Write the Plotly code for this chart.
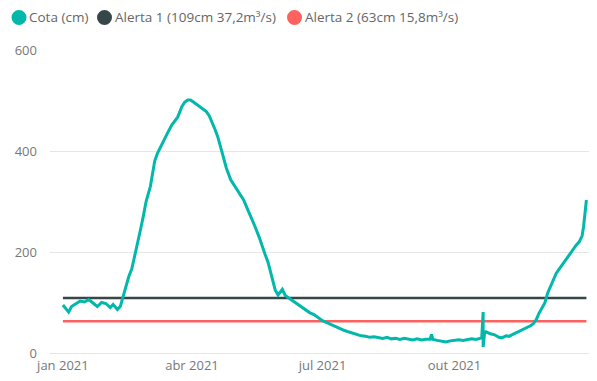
import plotly.graph_objects as go
import pandas as pd

# Dia do ano (0 = 1 jan 2021) e cota em cm
dia = [0, 2, 4, 6, 9, 12, 15, 18, 21, 24, 27, 30, 33, 35, 38, 40, 42, 44, 46, 48,
       50, 52, 54, 56, 58, 61, 64, 66, 68, 71, 73, 76, 78, 80, 83, 85, 87, 89, 91, 94,
       97, 100, 102, 104, 106, 108, 111, 114, 117, 120, 122, 124, 126, 129, 132, 134, 137, 139, 141, 143,
       145, 146, 148, 150, 152, 153, 155, 157, 160, 163, 166, 169, 172, 175, 178, 181, 184, 187, 190, 193,
       196, 199, 202, 205, 208, 211, 214, 217, 220, 223, 226, 229, 232, 235, 238, 241, 244, 247, 250, 253,
       256, 257, 258, 261, 264, 267, 270, 273, 276, 279, 282, 285, 288, 290, 292, 293, 293, 294, 295, 298,
       301, 304, 306, 309, 311, 313, 316, 318, 320, 322, 324, 326, 328, 330, 332, 334, 336, 338, 340, 342,
       344, 346, 348, 350, 352, 354, 356, 358, 360, 362, 363, 364, 365]
cota = [95, 88, 81, 92, 98, 103, 101, 106, 99, 92, 100, 98, 90, 96, 86, 92, 112, 135, 152, 166,
        190, 218, 243, 270, 300, 330, 380, 396, 408, 425, 436, 452, 460, 467, 488, 497, 501, 501, 497, 491,
        485, 478, 470, 458, 443, 428, 398, 366, 343, 330, 323, 313, 303, 283, 264, 250, 228, 210, 195, 180,
        160, 148, 125, 115, 121, 126, 114, 110, 105, 99, 92, 86, 80, 76, 70, 64, 60, 56, 52, 48,
        45, 42, 39, 36, 34, 33, 31, 32, 30, 29, 31, 28, 29, 27, 29, 27, 26, 28, 26, 27,
        27, 37, 27, 25, 24, 22, 24, 25, 26, 25, 27, 28, 27, 29, 30, 81, 12, 40, 42, 38,
        36, 31, 30, 34, 33, 36, 40, 43, 46, 48, 51, 54, 58, 66, 79, 90, 99, 119, 133, 145,
        158, 166, 174, 184, 192, 198, 206, 214, 220, 232, 250, 276, 303]

dia_alerta = [0, 365]
alerta1 = [109, 109]
alerta2 = [63, 63]

nomes = ["Cota (cm)", "Alerta 1 (109cm 37,2m³/s)", "Alerta 2 (63cm 15,8m³/s)"]
cores = ["#01B8AA", "#374649", "#FD625E"]

tick_vals = ["2021-01-01", "2021-04-01", "2021-07-01", "2021-10-01"]
tick_text = ["jan 2021", "abr 2021", "jul 2021", "out 2021"]

inicio = pd.Timestamp("2021-01-01")
datas = inicio + pd.to_timedelta(dia, unit="D")
datas_alerta = inicio + pd.to_timedelta(dia_alerta, unit="D")

fig = go.Figure()

# Linhas de alerta
fig.add_trace(go.Scatter(x=datas_alerta, y=alerta1, mode="lines", name=nomes[1],
                         line=dict(color=cores[1], width=2.5), hoverinfo="skip"))
fig.add_trace(go.Scatter(x=datas_alerta, y=alerta2, mode="lines", name=nomes[2],
                         line=dict(color=cores[2], width=2.5), hoverinfo="skip"))

# Cota
fig.add_trace(go.Scatter(x=datas, y=cota, mode="lines", name=nomes[0],
                         line=dict(color=cores[0], width=3)))

# Legenda estilo Power BI: circulo + texto, em px da area do grafico
ESQ, LARG, BASE, ALT = 50, 540, 353, 303
legenda_x = [19, 104.5, 294.5]
leg_y = 17.5
for nome, cor, cx in zip(nomes, cores, legenda_x):
    fig.add_shape(type="circle", xref="paper", yref="paper",
                  xsizemode="pixel", ysizemode="pixel",
                  xanchor=(cx - ESQ) / LARG, yanchor=(BASE - leg_y) / ALT,
                  x0=-7.5, x1=7.5, y0=-7.5, y1=7.5,
                  fillcolor=cor, line=dict(width=0))
    fig.add_annotation(text=nome, xref="paper", yref="paper",
                       x=(cx + 9 - ESQ) / LARG, y=(BASE - leg_y) / ALT,
                       xanchor="left", yanchor="middle", showarrow=False,
                       borderpad=0, font=dict(size=13.5, color="#666666"))

# o body da pagina tem margem de 8px, por isso a figura e 8px menor
fig.update_layout(
    width=589, height=373,
    margin=dict(l=42, r=7, t=42, b=28),
    paper_bgcolor="white", plot_bgcolor="white",
    font=dict(family="Open Sans", size=13, color="#777777"),
    showlegend=False,
)

fig.update_xaxes(
    range=["2020-12-23", "2022-01-03 12:00"],
    tickvals=tick_vals, ticktext=tick_text,
    showgrid=False, showline=True, linecolor="#e6e6e6", linewidth=1,
    ticks="", zeroline=False,
)
fig.update_yaxes(
    range=[0, 600], tickvals=[0, 200, 400, 600],
    showgrid=True, gridcolor="#e6e6e6", gridwidth=1,
    zeroline=False, ticks="", ticklabelstandoff=12,
)

fig.write_html("out.html")
